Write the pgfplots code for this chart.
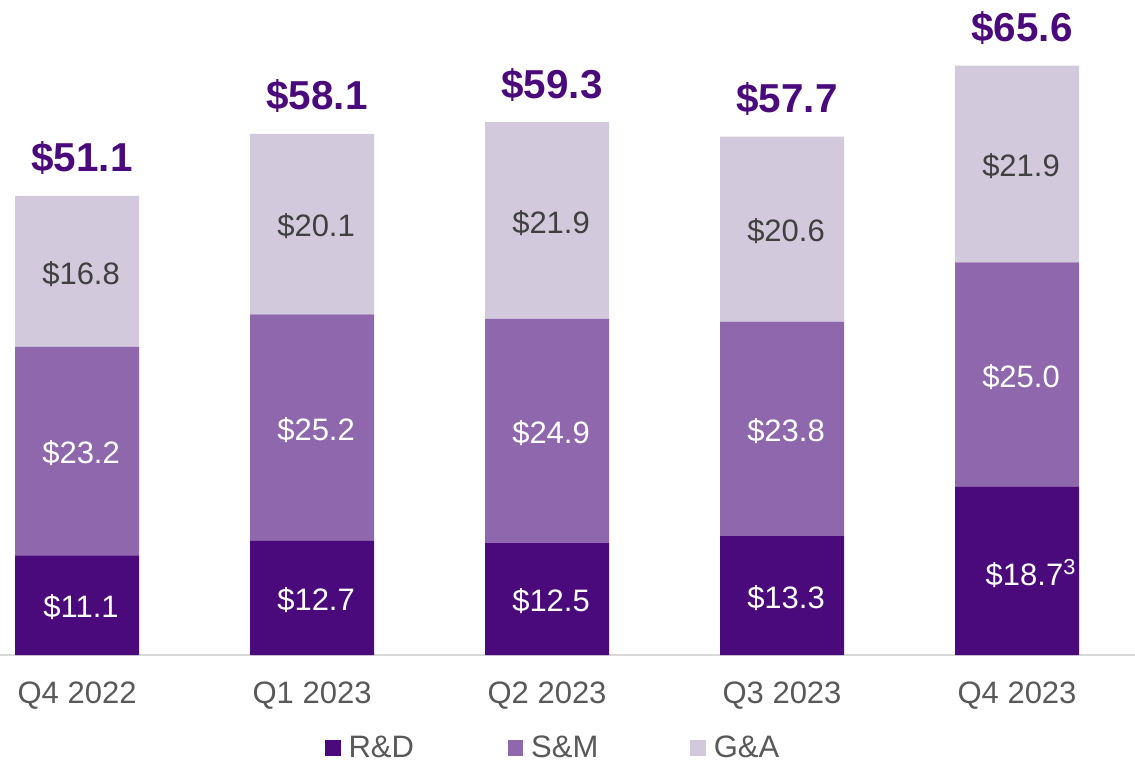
\documentclass[border=0pt]{standalone}
\usepackage{pgfplots}
\pgfplotsset{compat=1.18}
\usepackage{fontspec}
\setmainfont{Liberation Sans}
\definecolor{rdc}{HTML}{4B0A7B}
\definecolor{smc}{HTML}{8F67AD}
\definecolor{gac}{HTML}{D2C9DD}
\definecolor{txtgray}{HTML}{595959}
\definecolor{lblgray}{HTML}{404040}
\definecolor{axgray}{HTML}{D9D9D9}
\newcommand{\lblfont}{\fontsize{15.5}{18}\selectfont}
\newcommand{\totfont}{\fontsize{20.2}{24}\selectfont\bfseries}
\tikzset{
  seg/.style={font=\lblfont, anchor=center, xshift=2pt, yshift=-1.2pt},
  tot/.style={font=\totfont, text=rdc, anchor=base, yshift=12pt, xshift=2.5pt},
}
\pgfplotsset{frame/.style={
  scale only axis,
  width=567.5pt, height=327.5pt,
  xmin=-0.328, xmax=4.502,
  ymin=0, ymax=72.9,
  clip=false,
}}
\begin{document}
\begin{tikzpicture}
\begin{axis}[
  frame,
  ybar stacked, bar width=62pt,
  xtick={0,1,2,3,4},
  xticklabels={Q4 2022,Q1 2023,Q2 2023,Q3 2023,Q4 2023},
  xticklabel style={font=\lblfont, text=txtgray, yshift=-10pt},
  major tick length=0pt,
  axis x line*=bottom, axis y line=none,
  x axis line style={draw=axgray, line width=1pt},
  legend columns=3,
  legend style={draw=none, font=\lblfont, text=txtgray, inner sep=0pt, outer sep=0pt,
    at={(rel axis cs:0.2863,-0.142)}, anchor=west,
    nodes={text width=60pt, align=left, inner ysep=2.5pt, inner xsep=4pt},
    /tikz/every even column/.append style={column sep=15.5pt}},
  legend image code/.code={\fill[#1] (0pt,-3.9pt) rectangle (7.8pt,3.9pt);},
]
\addplot[fill=rdc, draw=none] coordinates {(0,11.1) (1,12.7) (2,12.5) (3,13.3) (4,18.7)};
\addplot[fill=smc, draw=none] coordinates {(0,23.2) (1,25.2) (2,24.9) (3,23.8) (4,25.0)};
\addplot[fill=gac, draw=none] coordinates {(0,16.8) (1,20.1) (2,21.9) (3,20.6) (4,21.9)};
\legend{R\&D, S\&M, G\&A}
\end{axis}
% labels on top of the bars
\begin{axis}[frame, hide axis]
\node[seg, white] at (axis cs:0,5.55) {\$11.1};
\node[seg, white] at (axis cs:1,6.35) {\$12.7};
\node[seg, white] at (axis cs:2,6.25) {\$12.5};
\node[seg, white] at (axis cs:3,6.65) {\$13.3};
\node[seg, white, xshift=5pt] at (axis cs:4,9.35) {\$18.7\textsuperscript{3}};
\node[seg, white] at (axis cs:0,22.7) {\$23.2};
\node[seg, white] at (axis cs:1,25.3) {\$25.2};
\node[seg, white] at (axis cs:2,24.95) {\$24.9};
\node[seg, white] at (axis cs:3,25.2) {\$23.8};
\node[seg, white] at (axis cs:4,31.2) {\$25.0};
\node[seg, lblgray] at (axis cs:0,42.7) {\$16.8};
\node[seg, lblgray] at (axis cs:1,48.0) {\$20.1};
\node[seg, lblgray] at (axis cs:2,48.35) {\$21.9};
\node[seg, lblgray] at (axis cs:3,47.4) {\$20.6};
\node[seg, lblgray] at (axis cs:4,54.65) {\$21.9};
\node[tot] at (axis cs:0,51.1) {\$51.1};
\node[tot] at (axis cs:1,58.0) {\$58.1};
\node[tot] at (axis cs:2,59.3) {\$59.3};
\node[tot] at (axis cs:3,57.7) {\$57.7};
\node[tot] at (axis cs:4,65.6) {\$65.6};
\end{axis}
\pgfresetboundingbox
\path[use as bounding box] (current axis.south west) ++(0,-54.5pt) rectangle (current axis.north east);
\end{tikzpicture}
\end{document}
